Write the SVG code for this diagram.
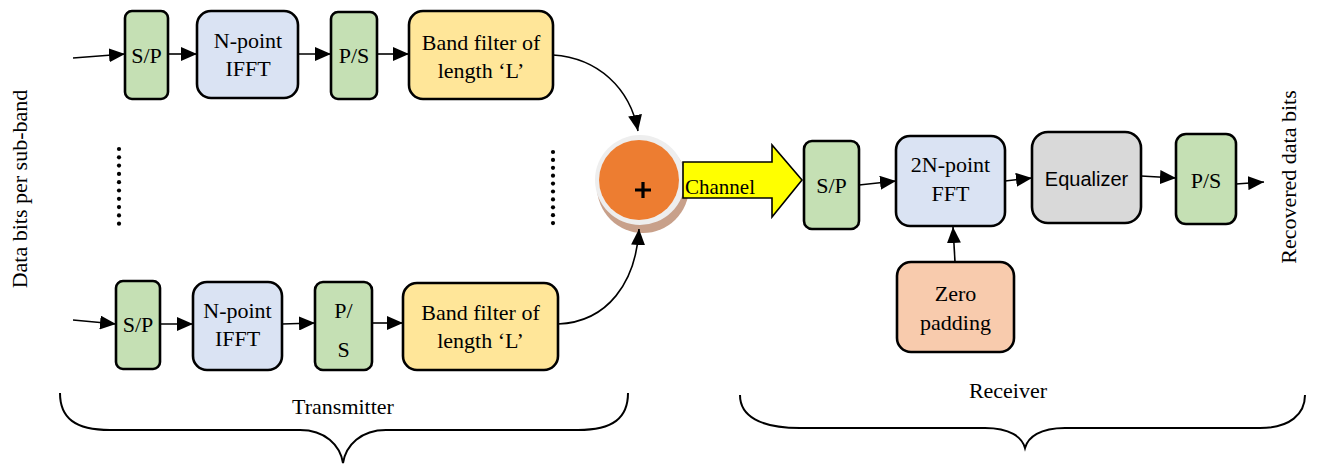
<svg xmlns="http://www.w3.org/2000/svg" width="1320" height="465" viewBox="0 0 1320 465">
  <defs>
    <marker id="arrow" viewBox="0 0 16 14" refX="16" refY="7" markerWidth="16" markerHeight="14" markerUnits="userSpaceOnUse" orient="auto">
      <path d="M0,0 L16,7 L0,14 Z" fill="#000"/>
    </marker>
    <style>
      .box { stroke: #000; stroke-width: 2.6; }
      .green { fill: #c5e0b4; }
      .blue { fill: #dae3f3; }
      .yellow { fill: #ffe699; }
      .grey { fill: #d9d9d9; }
      .salmon { fill: #f8cbad; }
      .lbl { font-family: "Liberation Serif", "Times New Roman", serif; font-size: 22px; fill: #000; text-anchor: middle; }
      .cap { font-family: "Liberation Serif", "Times New Roman", serif; font-size: 22px; fill: #000; text-anchor: middle; }
      .side { font-family: "Liberation Serif", "Times New Roman", serif; font-size: 22px; fill: #000; text-anchor: middle; }
      .sans { font-family: "Liberation Sans", Arial, sans-serif; font-size: 20px; fill: #000; text-anchor: middle; }
      .wire { fill: none; stroke: #000; stroke-width: 1.6; marker-end: url(#arrow); }
      .brace { fill: none; stroke: #000; stroke-width: 2; }
      .dot { fill: #000; }
    </style>
  </defs>

  <!-- side labels -->
  <text class="side" transform="translate(27,189) rotate(-90)">Data bits per sub-band</text>
  <text class="side" transform="translate(1296,177) rotate(-90)">Recovered data bits</text>

  <!-- upper sub-band chain -->
  <g id="tx1-sp"><rect class="box green" x="125" y="11" width="43" height="88" rx="7"/><text class="lbl" x="146.5" y="63">S/P</text></g>
  <g id="tx1-ifft"><rect class="box blue" x="197" y="11" width="101" height="87" rx="14"/><text class="lbl" x="248" y="48">N-point</text><text class="lbl" x="248" y="76">IFFT</text></g>
  <g id="tx1-ps"><rect class="box green" x="331" y="12" width="46" height="87" rx="7"/><text class="lbl" x="354" y="63">P/S</text></g>
  <g id="tx1-filter"><rect class="box yellow" x="409" y="11" width="144" height="88" rx="14"/><text class="lbl" x="481" y="50">Band filter of</text><text class="lbl" x="481" y="78">length ‘L’</text></g>

  <!-- lower sub-band chain -->
  <g id="tx2-sp"><rect class="box green" x="116" y="281" width="44" height="88" rx="7"/><text class="lbl" x="138" y="332">S/P</text></g>
  <g id="tx2-ifft"><rect class="box blue" x="193" y="282" width="89" height="88" rx="14"/><text class="lbl" x="237.5" y="318">N-point</text><text class="lbl" x="237.5" y="346">IFFT</text></g>
  <g id="tx2-ps"><rect class="box green" x="315" y="282" width="57" height="88" rx="8"/><text class="lbl" x="343.5" y="318">P/</text><text class="lbl" x="343.5" y="357">S</text></g>
  <g id="tx2-filter"><rect class="box yellow" x="403" y="283" width="155" height="87" rx="14"/><text class="lbl" x="480.5" y="320">Band filter of</text><text class="lbl" x="480.5" y="348">length ‘L’</text></g>

  <!-- omitted sub-bands -->
  <g id="dots-left">
    <circle class="dot" cx="119" cy="149" r="2.1"/><circle class="dot" cx="119" cy="157.3" r="2.1"/><circle class="dot" cx="119" cy="165.6" r="2.1"/><circle class="dot" cx="119" cy="173.9" r="2.1"/><circle class="dot" cx="119" cy="182.2" r="2.1"/>
    <circle class="dot" cx="119" cy="190.5" r="2.1"/><circle class="dot" cx="119" cy="198.8" r="2.1"/><circle class="dot" cx="119" cy="207.1" r="2.1"/><circle class="dot" cx="119" cy="215.4" r="2.1"/><circle class="dot" cx="119" cy="223.7" r="2.1"/>
  </g>
  <g id="dots-right">
    <circle class="dot" cx="553" cy="152" r="2.1"/><circle class="dot" cx="553" cy="159.9" r="2.1"/><circle class="dot" cx="553" cy="167.8" r="2.1"/><circle class="dot" cx="553" cy="175.7" r="2.1"/><circle class="dot" cx="553" cy="183.6" r="2.1"/>
    <circle class="dot" cx="553" cy="191.5" r="2.1"/><circle class="dot" cx="553" cy="199.4" r="2.1"/><circle class="dot" cx="553" cy="207.3" r="2.1"/><circle class="dot" cx="553" cy="215.2" r="2.1"/><circle class="dot" cx="553" cy="223.1" r="2.1"/>
  </g>

  <!-- summing node -->
  <g id="adder">
    <circle cx="643" cy="187" r="46" fill="#c8a08a"/>
    <circle cx="640" cy="180" r="45" fill="#eeeeee"/>
    <circle cx="639" cy="180" r="40" fill="#ed7d31"/>
    <path d="M643,182 V198 M635,190 H651" stroke="#000" stroke-width="3.2" fill="none"/>
  </g>

  <!-- channel block arrow -->
  <g id="channel">
    <path d="M683,162 H772 V145 L802,180 L772,217 V198 H683 Z" fill="#ffff00" stroke="#000" stroke-width="1.6"/>
    <text class="lbl" x="685" y="194" style="text-anchor:start;font-size:21px">Channel</text>
  </g>

  <!-- receiver chain -->
  <g id="rx-sp"><rect class="box green" x="804" y="141" width="55" height="88" rx="8"/><text class="lbl" x="831.5" y="193">S/P</text></g>
  <g id="rx-fft"><rect class="box blue" x="896" y="136" width="109" height="90" rx="14"/><text class="lbl" x="950.5" y="172">2N-point</text><text class="lbl" x="950.5" y="201">FFT</text></g>
  <g id="rx-eq"><rect class="box grey" x="1032" y="132" width="109" height="91" rx="16"/><text class="sans" x="1086.5" y="186">Equalizer</text></g>
  <g id="rx-ps"><rect class="box green" x="1176" y="134" width="60" height="90" rx="10"/><text class="lbl" x="1206" y="188">P/S</text></g>
  <g id="rx-zero"><rect class="box salmon" x="897" y="262" width="117" height="90" rx="14"/><text class="lbl" x="955.5" y="301">Zero</text><text class="lbl" x="955.5" y="330">padding</text></g>

  <!-- connectors -->
  <g id="connectors">
    <path class="wire" d="M73,58 L125,54"/>
    <path class="wire" d="M168,54 L197,54"/>
    <path class="wire" d="M298,54 L331,54"/>
    <path class="wire" d="M377,54 L409,54"/>
    <path class="wire" d="M553,55 C598,58 630,88 638,131"/>

    <path class="wire" d="M73,320 L116,324"/>
    <path class="wire" d="M160,324 L193,324"/>
    <path class="wire" d="M282,324 L315,323"/>
    <path class="wire" d="M372,323 L403,323"/>
    <path class="wire" d="M558,324 C608,322 636,282 639,229"/>

    <path class="wire" d="M859,185 L896,181"/>
    <path class="wire" d="M1005,181 L1032,178"/>
    <path class="wire" d="M1141,176 L1176,178"/>
    <path class="wire" d="M1236,184 L1264,182"/>
    <path class="wire" d="M955,262 L953,227"/>
  </g>

  <!-- section braces -->
  <g id="tx-brace">
    <path class="brace" d="M60,393 C60,418 75,430 110,430 H300 C325,430 340,445 343,463 C346,445 361,430 386,430 H578 C613,430 628,418 628,393"/>
    <text class="cap" x="343" y="414">Transmitter</text>
  </g>
  <g id="rx-brace">
    <path class="brace" d="M740,395 C740,416 760,428 800,428 H985 C1010,428 1022,437 1025,448 C1028,437 1040,428 1065,428 H1260 C1290,428 1305,414 1305,395"/>
    <text class="cap" x="1008" y="398">Receiver</text>
  </g>
</svg>
